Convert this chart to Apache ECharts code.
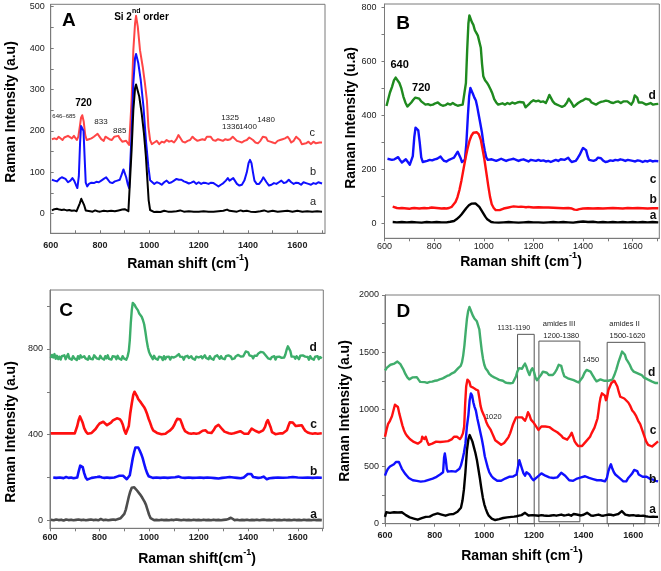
<!DOCTYPE html>
<html><head><meta charset="utf-8">
<script src="https://cdn.jsdelivr.net/npm/echarts@6/dist/echarts.min.js"></script>
<style>html,body{margin:0;padding:0;background:#fff}#c{width:661px;height:571px}</style>
</head><body><div id="c"></div>
<script>
// ---------- tick values ----------
const xLabelVals = [600,800,1000,1200,1400,1600];
const xTickVals = [600,700,800,900,1000,1100,1200,1300,1400,1500,1600,1700];
const A_yLabels = [0,100,200,300,400,500];
const A_yTicks = [0,50,100,150,200,250,300,350,400,450,500];
const B_yLabels = [0,200,400,600,800];
const B_yTicks = [0,100,200,300,400,500,600,700,800];
const C_yLabels = [0,400,800];
const C_yTicks = [0,200,400,600,800,1000];
const D_yLabels = [0,500,1000,1500,2000];
const D_yTicks = [0,250,500,750,1000,1250,1500,1750,2000];

// ---------- Panel A ----------
const A_a = [[605,8],[615,11],[625,12],[635,10],[645,9],[655,10],[665,8],[675,9],[685,7],[695,8],[705,6],[712,10],[718,25],[724,36],[730,34],[736,20],[742,8],[750,5],[760,6],[770,5],[780,8],[790,6],[800,5],[815,7],[830,6],[845,7],[860,6],[875,8],[890,10],[900,11],[908,9],[915,6],[921,9],[928,154],[935,250],[942,303],[946,312],[959,283],[969,242],[978,194],[986,138],[992,81],[997,33],[1003,9],[1010,5],[1020,4],[1030,5],[1045,4],[1060,7],[1075,5],[1090,5],[1110,6],[1125,8],[1140,5],[1160,6],[1180,5],[1200,5],[1220,6],[1240,5],[1260,5],[1280,6],[1300,7],[1315,10],[1325,7],[1340,6],[1355,5],[1370,8],[1380,6],[1395,7],[1410,5],[1430,4],[1450,6],[1465,8],[1480,5],[1500,7],[1520,5],[1540,6],[1560,7],[1580,5],[1600,7],[1620,5],[1640,6],[1660,5],[1680,6],[1700,5]];
const A_b = [[605,82],[615,80],[625,78],[635,84],[645,88],[652,92],[660,84],[670,76],[680,80],[688,86],[695,80],[702,70],[708,62],[714,90],[719,170],[723,212],[728,215],[733,200],[738,130],[742,75],[748,66],[755,72],[765,75],[775,74],[785,77],[795,76],[805,80],[815,84],[825,88],[832,86],[840,76],[850,74],[860,78],[870,80],[880,82],[888,95],[895,107],[900,105],[906,88],[912,72],[918,62],[922,66],[928,194],[935,315],[942,376],[946,386],[955,364],[965,323],[976,259],[986,178],[996,113],[1003,81],[1010,78],[1020,72],[1030,76],[1040,74],[1050,70],[1060,76],[1070,80],[1080,74],[1090,76],[1100,80],[1110,84],[1120,82],[1130,82],[1140,78],[1150,76],[1160,73],[1170,75],[1180,78],[1190,72],[1200,76],[1210,72],[1220,75],[1230,74],[1240,72],[1250,75],[1260,74],[1270,70],[1280,66],[1290,70],[1300,74],[1310,80],[1318,86],[1325,80],[1332,78],[1340,86],[1347,84],[1355,72],[1365,68],[1375,70],[1385,80],[1395,100],[1402,122],[1408,130],[1414,122],[1420,100],[1426,80],[1435,72],[1445,72],[1455,80],[1462,88],[1468,86],[1475,76],[1485,68],[1495,70],[1505,74],[1515,72],[1525,76],[1535,80],[1545,74],[1555,76],[1565,82],[1575,76],[1585,72],[1595,75],[1605,74],[1615,70],[1625,76],[1635,74],[1645,72],[1655,70],[1665,74],[1675,72],[1685,76],[1700,73]];
const A_c = [[605,180],[615,182],[625,180],[632,186],[640,185],[648,178],[655,184],[662,182],[670,188],[678,184],[686,182],[694,188],[700,186],[706,178],[712,186],[718,210],[723,232],[728,238],[734,222],[740,190],[746,178],[755,180],[765,182],[775,186],[783,190],[790,193],[797,190],[805,180],[815,176],[822,186],[830,188],[838,180],[848,178],[858,186],[866,190],[874,188],[882,180],[890,174],[898,172],[906,176],[912,172],[918,166],[922,170],[928,274],[935,395],[942,460],[946,478],[953,452],[962,395],[973,355],[982,315],[990,274],[996,210],[1003,178],[1010,168],[1020,172],[1030,176],[1040,168],[1050,174],[1060,172],[1070,178],[1080,174],[1090,176],[1100,172],[1110,180],[1118,190],[1125,186],[1135,174],[1145,172],[1155,176],[1165,178],[1175,186],[1185,180],[1195,176],[1205,178],[1215,180],[1225,178],[1233,186],[1240,190],[1248,186],[1258,178],[1268,176],[1278,180],[1288,178],[1298,176],[1308,180],[1318,178],[1328,180],[1338,186],[1345,182],[1355,176],[1365,174],[1375,172],[1385,176],[1395,178],[1405,184],[1412,186],[1420,178],[1430,172],[1440,170],[1450,176],[1460,186],[1466,190],[1473,184],[1480,176],[1490,174],[1500,172],[1510,170],[1520,176],[1530,178],[1540,180],[1550,182],[1560,186],[1568,180],[1575,172],[1585,176],[1595,186],[1603,190],[1610,178],[1618,168],[1625,165],[1635,170],[1645,174],[1655,168],[1665,174],[1675,170],[1690,172],[1700,172]];

// ---------- Panel B ----------
const B_a = [[633,6],[650,5],[670,6],[690,5],[710,6],[730,5],[750,4],[770,6],[790,5],[810,6],[830,5],[850,5],[865,7],[880,10],[890,16],[900,24],[910,34],[920,46],[930,58],[940,68],[950,74],[958,76],[966,75],[974,70],[982,62],[990,50],[998,38],[1006,26],[1014,16],[1022,10],[1030,6],[1040,5],[1060,4],[1080,5],[1100,6],[1120,5],[1140,4],[1160,5],[1180,6],[1200,5],[1220,5],[1240,4],[1260,5],[1280,6],[1300,5],[1320,6],[1340,5],[1360,4],[1380,6],[1400,8],[1420,6],[1440,7],[1460,5],[1480,6],[1500,5],[1520,6],[1540,5],[1560,6],[1580,5],[1600,6],[1620,5],[1640,6],[1660,5],[1680,6],[1703,5]];
const B_b = [[633,63],[640,60],[650,58],[660,57],[670,58],[680,57],[690,56],[700,55],[710,57],[720,58],[730,57],[740,56],[750,57],[760,58],[770,57],[780,58],[790,60],[800,59],[810,58],[820,57],[830,56],[840,57],[850,56],[860,58],[870,62],[878,68],[886,80],[894,98],[902,125],[910,160],[918,200],[926,240],[934,275],[942,305],[950,325],[958,336],[965,340],[972,338],[980,330],[988,310],[995,275],[1002,240],[1010,190],[1018,140],[1025,100],[1032,72],[1040,58],[1048,50],[1056,48],[1064,50],[1072,54],[1080,56],[1090,58],[1100,60],[1110,62],[1120,64],[1130,63],[1140,62],[1150,63],[1160,62],[1170,61],[1180,62],[1190,61],[1200,60],[1220,61],[1240,60],[1260,60],[1280,59],[1300,58],[1320,57],[1340,58],[1355,56],[1365,52],[1375,51],[1385,54],[1400,56],[1420,57],[1440,56],[1460,57],[1480,56],[1500,57],[1520,58],[1540,57],[1560,56],[1580,58],[1600,57],[1620,58],[1640,57],[1660,56],[1680,57],[1703,57]];
const B_c = [[612,240],[620,238],[630,236],[640,238],[648,244],[655,246],[662,236],[670,226],[678,232],[686,238],[694,232],[702,218],[708,212],[714,250],[720,320],[725,355],[730,358],[736,345],[742,300],[748,245],[754,228],[762,226],[772,232],[782,236],[792,234],[802,238],[812,240],[820,246],[826,248],[832,240],[840,232],[850,230],[860,236],[870,240],[880,244],[888,256],[895,266],[900,262],[906,244],[912,228],[918,222],[924,236],[930,300],[936,400],[941,470],[946,502],[951,498],[956,480],[962,466],[968,455],[974,430],[980,400],[986,370],[992,340],[998,300],[1004,270],[1010,245],[1016,236],[1024,232],[1032,238],[1040,234],[1050,232],[1060,236],[1070,240],[1080,236],[1090,232],[1100,236],[1110,238],[1120,240],[1130,236],[1140,232],[1150,236],[1160,238],[1170,234],[1180,230],[1190,236],[1200,234],[1210,232],[1220,236],[1230,232],[1240,234],[1250,230],[1260,232],[1270,228],[1280,232],[1290,236],[1300,232],[1310,238],[1318,242],[1326,236],[1334,240],[1340,244],[1346,236],[1354,228],[1362,226],[1370,232],[1378,242],[1386,254],[1394,270],[1400,280],[1406,284],[1412,272],[1418,250],[1424,236],[1432,230],[1442,232],[1452,236],[1460,244],[1466,248],[1472,242],[1480,234],[1490,228],[1500,230],[1510,234],[1520,232],[1530,236],[1540,234],[1550,238],[1560,236],[1570,232],[1580,236],[1590,234],[1600,232],[1610,230],[1620,234],[1630,232],[1640,228],[1650,232],[1660,230],[1670,234],[1680,230],[1690,232],[1703,231]];
const B_d = [[608,435],[615,460],[622,485],[630,505],[638,530],[645,540],[652,538],[660,520],[668,500],[676,470],[684,448],[692,433],[700,435],[708,448],[716,458],[724,466],[732,470],[740,462],[748,452],[756,448],[765,440],[775,442],[785,438],[795,440],[805,445],[815,448],[825,440],[835,436],[845,438],[855,444],[865,440],[875,446],[885,440],[895,436],[905,438],[915,440],[922,446],[928,520],[933,640],[938,740],[942,770],[947,765],[952,745],[958,735],[964,715],[970,705],[976,695],[982,690],[988,650],[993,590],[998,545],[1005,530],[1012,522],[1020,510],[1028,495],[1035,480],[1042,460],[1050,448],[1058,440],[1066,442],[1075,445],[1085,440],[1095,446],[1105,442],[1115,448],[1125,444],[1135,448],[1145,450],[1152,455],[1160,448],[1168,430],[1174,425],[1182,442],[1190,450],[1200,456],[1210,452],[1220,455],[1230,450],[1240,452],[1250,446],[1258,462],[1264,476],[1270,466],[1278,452],[1286,444],[1295,440],[1305,436],[1315,432],[1325,436],[1335,448],[1342,462],[1348,464],[1354,446],[1362,432],[1370,438],[1380,446],[1390,452],[1400,456],[1410,462],[1418,466],[1426,458],[1434,448],[1442,442],[1452,440],[1462,446],[1472,450],[1482,452],[1492,455],[1502,453],[1512,448],[1522,446],[1532,450],[1542,452],[1552,446],[1562,452],[1570,458],[1578,452],[1586,446],[1594,440],[1602,452],[1608,474],[1613,480],[1618,466],[1624,448],[1630,442],[1638,448],[1646,452],[1654,440],[1662,442],[1672,446],[1682,440],[1692,442],[1703,443]];

// ---------- Panel C ----------
const C_a = [[603,3],[615,0],[625,4],[635,1],[645,3],[655,-1],[665,4],[675,1],[685,3],[695,0],[705,2],[715,4],[725,1],[735,3],[745,0],[755,2],[765,4],[775,1],[785,3],[795,0],[805,6],[815,1],[825,3],[835,0],[845,2],[855,4],[865,2],[875,6],[885,10],[893,18],[900,30],[906,50],[912,80],[918,110],[924,135],[930,152],[935,158],[940,154],[946,146],[952,138],[958,130],[964,120],[970,110],[976,98],[982,86],[988,70],[994,48],[1000,26],[1006,10],[1012,3],[1020,1],[1030,2],[1040,0],[1050,3],[1060,1],[1070,2],[1080,0],[1090,3],[1100,1],[1110,4],[1120,2],[1130,0],[1140,3],[1150,1],[1160,2],[1170,0],[1180,3],[1190,1],[1200,2],[1210,0],[1220,3],[1230,1],[1240,2],[1250,0],[1260,3],[1270,1],[1280,2],[1290,0],[1300,2],[1310,3],[1320,6],[1330,12],[1338,6],[1345,1],[1355,3],[1365,0],[1375,2],[1385,1],[1395,3],[1405,0],[1415,2],[1425,1],[1435,3],[1445,0],[1455,2],[1465,3],[1475,1],[1485,2],[1495,0],[1505,3],[1515,1],[1525,2],[1535,0],[1545,3],[1555,1],[1565,2],[1575,0],[1585,3],[1595,1],[1605,2],[1615,0],[1625,3],[1635,1],[1645,2],[1655,0],[1665,3],[1675,1],[1685,2],[1697,1]];
const C_b = [[613,200],[625,198],[640,200],[655,197],[665,202],[675,198],[685,200],[695,196],[703,190],[710,200],[716,230],[722,255],[727,260],[732,248],[738,220],[744,200],[750,190],[758,192],[768,198],[778,200],[790,202],[800,204],[810,200],[820,198],[830,200],[840,198],[850,199],[860,200],[870,204],[880,208],[888,210],[895,208],[902,200],[910,192],[916,192],[922,210],[928,250],[934,290],[940,320],[945,340],[950,346],[956,340],[962,326],[968,310],[974,290],[980,264],[986,240],[992,220],[998,206],[1005,200],[1015,198],[1030,200],[1045,198],[1060,200],[1075,198],[1090,200],[1105,201],[1118,204],[1130,200],[1145,198],[1160,200],[1175,198],[1190,199],[1205,200],[1220,198],[1235,200],[1250,199],[1265,197],[1280,195],[1295,198],[1310,200],[1325,202],[1340,200],[1355,198],[1370,196],[1382,200],[1390,208],[1398,216],[1405,222],[1412,216],[1420,202],[1428,196],[1440,198],[1452,200],[1462,204],[1468,202],[1475,192],[1485,196],[1500,198],[1520,200],[1540,199],[1560,200],[1580,202],[1600,200],[1620,199],[1640,200],[1660,198],[1680,200],[1697,199]];
const C_c = [[603,406],[620,406],[640,406],[660,406],[680,406],[700,406],[705,412],[710,440],[716,470],[721,485],[726,480],[732,455],[738,430],[745,414],[752,404],[760,402],[768,408],[776,416],[784,426],[792,440],[800,452],[808,458],[815,460],[822,452],[830,444],[838,448],[846,456],[854,466],[862,472],[870,476],[876,478],[882,472],[888,462],[894,446],[900,420],[906,404],[912,410],[918,440],[924,500],[930,545],[936,585],[941,600],[946,596],[951,580],[956,566],[962,560],[968,548],[974,540],[980,528],[986,514],[992,496],[998,474],[1004,456],[1010,436],[1016,420],[1024,412],[1032,408],[1040,406],[1050,402],[1058,400],[1066,404],[1075,412],[1085,420],[1095,432],[1102,446],[1108,462],[1114,474],[1120,478],[1126,470],[1132,452],[1138,432],[1145,416],[1152,410],[1160,406],[1170,404],[1180,406],[1190,404],[1200,406],[1208,410],[1216,418],[1222,424],[1228,420],[1236,410],[1244,406],[1252,408],[1260,420],[1268,436],[1274,444],[1280,446],[1288,438],[1296,424],[1304,414],[1312,408],[1322,406],[1332,404],[1342,406],[1352,410],[1360,414],[1368,416],[1376,410],[1384,404],[1392,400],[1400,404],[1408,418],[1414,428],[1420,426],[1428,418],[1436,414],[1444,410],[1452,412],[1460,420],[1468,436],[1474,458],[1479,468],[1484,462],[1490,436],[1496,412],[1502,404],[1510,402],[1520,404],[1530,406],[1540,406],[1548,410],[1556,420],[1562,440],[1568,458],[1574,462],[1580,456],[1586,448],[1592,440],[1598,436],[1604,442],[1610,448],[1616,444],[1622,432],[1630,418],[1640,410],[1650,406],[1660,404],[1670,406],[1680,404],[1697,406]];
const C_d = [[603,758],[608,772],[613,760],[618,776],[623,754],[628,768],[633,752],[638,764],[643,750],[648,766],[653,758],[658,770],[663,752],[668,764],[673,776],[678,756],[683,762],[688,750],[693,766],[698,756],[703,762],[708,748],[713,766],[718,754],[723,770],[728,760],[733,752],[738,766],[743,756],[748,762],[753,750],[758,766],[763,754],[768,762],[773,752],[778,770],[783,776],[788,756],[793,764],[798,752],[803,768],[808,758],[813,764],[818,750],[823,766],[828,756],[833,770],[838,754],[843,762],[848,750],[853,766],[858,758],[863,764],[868,752],[873,768],[878,756],[883,762],[888,750],[893,766],[898,756],[903,762],[908,750],[913,764],[918,790],[922,840],[926,920],[930,980],[934,1015],[938,1020],[942,1005],[946,995],[950,990],[955,980],[960,965],[965,960],[970,950],[975,935],[980,915],[985,880],[990,840],[995,808],[1000,785],[1005,772],[1010,766],[1015,752],[1020,768],[1025,756],[1030,762],[1035,750],[1040,764],[1045,756],[1050,760],[1055,748],[1060,766],[1065,752],[1070,762],[1075,756],[1080,764],[1085,750],[1090,762],[1095,756],[1100,760],[1105,752],[1110,766],[1115,772],[1120,776],[1125,764],[1130,756],[1135,762],[1140,750],[1145,764],[1150,756],[1155,768],[1160,758],[1165,752],[1170,766],[1175,756],[1180,762],[1185,750],[1190,764],[1195,756],[1200,760],[1205,752],[1210,766],[1215,756],[1220,762],[1225,770],[1230,758],[1235,764],[1240,752],[1245,766],[1250,756],[1255,762],[1260,750],[1265,764],[1270,756],[1275,770],[1280,762],[1285,754],[1290,766],[1295,756],[1300,762],[1305,752],[1310,766],[1315,760],[1320,770],[1325,776],[1330,764],[1335,752],[1340,760],[1345,756],[1350,766],[1355,760],[1360,772],[1365,776],[1370,764],[1375,756],[1380,766],[1385,772],[1390,788],[1395,792],[1400,784],[1405,770],[1410,762],[1415,766],[1420,756],[1425,768],[1430,772],[1435,768],[1440,778],[1445,784],[1450,786],[1455,788],[1460,784],[1465,776],[1470,770],[1475,762],[1480,756],[1485,764],[1490,752],[1495,762],[1500,756],[1505,766],[1510,750],[1515,762],[1520,756],[1525,764],[1530,770],[1535,758],[1540,766],[1545,760],[1550,774],[1555,796],[1560,812],[1565,810],[1570,790],[1575,764],[1580,756],[1585,764],[1590,754],[1595,766],[1600,760],[1605,752],[1610,768],[1615,762],[1620,770],[1625,778],[1630,764],[1635,756],[1640,762],[1645,750],[1650,766],[1655,756],[1660,762],[1665,750],[1670,764],[1675,756],[1680,766],[1685,752],[1690,762],[1697,756]];

// ---------- Panel D ----------
const D_a = [[600,60],[605,100],[612,105],[620,95],[628,110],[636,100],[644,108],[652,98],[660,105],[668,100],[676,90],[684,75],[692,65],[700,55],[708,50],[716,45],[724,38],[732,35],[740,40],[748,48],[756,55],[764,60],[772,55],[780,62],[788,70],[796,80],[804,85],[812,90],[820,88],[828,80],[836,75],[844,70],[852,78],[860,82],[868,80],[876,85],[884,95],[892,105],[900,120],[906,140],[912,200],[918,300],[924,450],[930,640],[936,740],[941,775],[946,760],[952,720],[958,670],[964,620],[970,560],[976,480],[982,400],[988,310],[994,230],[1000,170],[1006,130],[1012,95],[1018,70],[1024,55],[1030,45],[1036,38],[1044,32],[1052,35],[1060,40],[1068,45],[1076,50],[1084,52],[1092,55],[1100,58],[1110,60],[1120,62],[1130,65],[1140,70],[1150,75],[1158,85],[1164,95],[1170,85],[1178,72],[1186,70],[1194,75],[1202,78],[1210,72],[1220,70],[1230,75],[1240,72],[1250,70],[1260,68],[1270,72],[1280,75],[1290,70],[1300,75],[1310,80],[1320,72],[1330,75],[1340,80],[1350,70],[1360,85],[1366,95],[1372,80],[1380,70],[1390,72],[1400,78],[1408,92],[1414,95],[1420,80],[1430,72],[1440,70],[1450,75],[1460,80],[1470,72],[1480,70],[1490,75],[1500,80],[1510,78],[1520,72],[1530,80],[1540,85],[1548,100],[1554,110],[1560,95],[1568,80],[1576,75],[1584,72],[1592,70],[1600,75],[1610,70],[1620,72],[1630,68],[1640,70],[1650,65],[1660,62],[1670,60],[1680,62],[1690,60],[1700,60]];
const D_b = [[600,420],[606,455],[612,480],[620,500],[628,510],[636,520],[644,540],[650,545],[656,540],[662,510],[668,480],[674,460],[680,440],[688,420],[696,400],[704,390],[712,380],[720,385],[728,375],[736,370],[744,368],[752,366],[760,372],[768,378],[776,384],[784,390],[792,395],[800,400],[808,410],[816,420],[822,430],[828,440],[834,450],[838,580],[841,615],[845,560],[849,480],[853,455],[860,455],[868,460],[876,452],[884,455],[892,460],[900,480],[906,510],[912,560],[918,620],[924,700],[930,850],[936,950],[941,1080],[946,1140],[951,1120],[956,1060],[961,1020],[966,990],[972,920],[978,860],[984,800],[990,740],[996,670],[1002,590],[1008,540],[1014,490],[1020,450],[1028,420],[1036,400],[1044,385],[1052,375],[1060,368],[1068,375],[1076,385],[1084,395],[1092,400],[1100,410],[1108,405],[1116,412],[1124,415],[1130,430],[1136,500],[1141,555],[1146,540],[1152,480],[1158,440],[1164,420],[1170,450],[1176,460],[1182,430],[1190,400],[1198,380],[1206,390],[1214,410],[1222,420],[1230,440],[1238,430],[1246,420],[1254,410],[1262,405],[1270,410],[1278,400],[1286,395],[1294,405],[1302,425],[1310,445],[1318,440],[1326,420],[1334,400],[1342,380],[1350,370],[1358,375],[1366,385],[1374,395],[1382,400],[1390,405],[1398,410],[1406,415],[1414,410],[1422,400],[1430,395],[1438,390],[1446,385],[1454,380],[1462,385],[1470,380],[1478,375],[1486,370],[1494,400],[1500,460],[1506,500],[1510,520],[1516,480],[1522,450],[1528,430],[1536,420],[1544,400],[1552,385],[1560,370],[1566,355],[1572,370],[1580,400],[1588,420],[1596,440],[1604,470],[1610,485],[1616,460],[1622,430],[1630,415],[1638,410],[1646,420],[1654,410],[1662,400],[1670,390],[1680,385],[1690,375],[1700,370]];
const D_c = [[600,760],[606,820],[612,870],[620,900],[628,940],[634,990],[640,1040],[646,1055],[652,1020],[658,960],[664,910],[670,860],[676,820],[682,790],[688,770],[694,755],[700,740],[708,725],[716,715],[724,705],[732,700],[740,710],[746,720],[750,760],[754,775],[758,740],[764,760],[770,720],[776,690],[782,680],[790,700],[798,712],[806,718],[814,720],[822,714],[830,720],[838,718],[846,715],[854,722],[862,728],[870,740],[878,760],[884,775],[890,760],[896,745],[902,740],[908,760],[914,790],[919,850],[923,1050],[927,1200],[932,1260],[936,1270],[940,1240],[945,1200],[950,1210],[955,1190],[960,1185],[965,1175],[970,1170],[975,1165],[980,1100],[985,1030],[990,990],[996,960],[1002,930],[1008,890],[1014,860],[1020,840],[1026,820],[1032,790],[1038,760],[1044,730],[1050,720],[1056,710],[1062,700],[1068,690],[1074,700],[1080,705],[1086,720],[1092,740],[1098,760],[1104,790],[1110,830],[1116,870],[1122,900],[1128,930],[1134,940],[1140,930],[1146,920],[1152,930],[1158,915],[1164,900],[1170,930],[1176,975],[1182,950],[1188,910],[1194,900],[1200,880],[1206,860],[1212,840],[1218,820],[1224,830],[1230,850],[1238,860],[1246,850],[1254,848],[1262,845],[1270,830],[1278,820],[1286,815],[1294,800],[1302,790],[1310,770],[1318,750],[1326,740],[1334,735],[1340,740],[1346,770],[1352,795],[1358,760],[1364,720],[1370,700],[1378,680],[1386,670],[1394,680],[1402,700],[1410,720],[1418,730],[1426,760],[1432,790],[1438,800],[1444,840],[1450,880],[1456,920],[1460,980],[1464,1050],[1468,1100],[1474,1140],[1480,1150],[1486,1120],[1490,1080],[1494,1100],[1500,1170],[1506,1200],[1512,1230],[1518,1240],[1524,1250],[1530,1240],[1536,1200],[1542,1150],[1548,1110],[1556,1100],[1564,1095],[1572,1080],[1580,1060],[1588,1030],[1596,990],[1604,970],[1612,940],[1620,900],[1628,870],[1636,820],[1644,770],[1652,720],[1660,690],[1668,680],[1676,675],[1684,690],[1692,705],[1700,720]];
const D_d = [[600,1340],[608,1365],[615,1375],[622,1390],[630,1395],[638,1400],[645,1410],[650,1418],[656,1405],[662,1395],[668,1372],[675,1345],[682,1310],[690,1280],[698,1262],[705,1268],[712,1280],[720,1290],[728,1282],[735,1260],[742,1240],[750,1232],[760,1238],[770,1232],[780,1240],[790,1242],[800,1250],[810,1252],[820,1262],[830,1268],[840,1280],[850,1292],[860,1300],[870,1315],[880,1325],[888,1340],[895,1360],[900,1375],[905,1380],[910,1410],[915,1470],[920,1560],[925,1680],[930,1790],[935,1860],[940,1895],[945,1870],[950,1840],[955,1815],[960,1795],[965,1785],[970,1770],[975,1760],[980,1700],[985,1600],[990,1510],[995,1440],[1000,1390],[1005,1360],[1012,1340],[1020,1310],[1030,1292],[1040,1280],[1050,1270],[1060,1258],[1068,1268],[1075,1250],[1085,1235],[1095,1230],[1105,1228],[1115,1232],[1122,1245],[1128,1290],[1133,1330],[1140,1360],[1146,1370],[1152,1355],[1158,1380],[1164,1400],[1170,1370],[1176,1330],[1182,1300],[1188,1340],[1194,1360],[1200,1330],[1206,1280],[1212,1255],[1220,1270],[1228,1300],[1236,1330],[1244,1340],[1252,1320],[1260,1300],[1268,1290],[1276,1300],[1284,1320],[1292,1350],[1300,1390],[1305,1405],[1310,1380],[1316,1330],[1322,1290],[1330,1275],[1340,1268],[1350,1262],[1360,1255],[1370,1245],[1380,1235],[1388,1240],[1396,1280],[1404,1320],[1412,1345],[1420,1350],[1428,1330],[1436,1300],[1444,1270],[1452,1245],[1460,1250],[1468,1262],[1476,1258],[1484,1250],[1492,1265],[1500,1250],[1508,1240],[1516,1260],[1524,1300],[1532,1350],[1540,1410],[1548,1460],[1555,1505],[1560,1510],[1566,1480],[1572,1440],[1578,1420],[1586,1390],[1594,1350],[1602,1330],[1610,1320],[1618,1315],[1626,1320],[1634,1300],[1642,1280],[1650,1270],[1658,1262],[1666,1255],[1674,1245],[1682,1235],[1690,1230],[1700,1230]];
const D_boxes = [[1134,0,1201,1656],[1220,17,1385,1597],[1495,0,1647,1586]];

// ---------- annotations (data coordinates, text) ----------
const A_notes = [[674,465,'A','L'],[968,480,'{b|Si 2}{s|nd}{b| order}','R'],[733,266,'720','B'],[654,235,'646–685','XS'],[804,222,'833','S'],[880,200,'885','S'],[1327,231,'1325','S'],[1331,209,'1336','S'],[1400,209,'1400','S'],[1473,228,'1480','S'],[1660,195,'c','N'],[1664,101,'b','N'],[1664,28,'a','N']];
const B_notes = [[675,738,'B','L'],[661,587,'640','B2'],[748,502,'720','B2'],[1678,472,'d','NB'],[1682,161,'c','NB'],[1682,87,'b','NB'],[1682,30,'a','NB']];
const C_notes = [[665,979,'C','L'],[1662,805,'d','NB'],[1664,448,'c','NB'],[1664,227,'b','NB'],[1664,28,'a','NB']];
const D_notes = [[674,1854,'D','L'],[1119,1714,'1131-1190','T'],[1301,1744,'amides III','T2'],[1310,1641,'1200-1380','T2'],[1429,1432,'1450','T2'],[1565,1744,'amides II','T2'],[1577,1641,'1500-1620','T2'],[1036,936,'1020','T2'],[1674,1324,'d','NB'],[1680,811,'c','NB'],[1678,388,'b','NB'],[1678,120,'a','NB']];

// ---------- styles ----------
const FONT = '"Liberation Sans", Arial, sans-serif';
const noteStyles = {
  L:{fontSize:19,fontWeight:'bold',color:'#000'},
  R:{fontSize:10,fontWeight:'bold',color:'#000'},
  B:{fontSize:10,fontWeight:'bold',color:'#000'},
  B2:{fontSize:11,fontWeight:'bold',color:'#000'},
  XS:{fontSize:6,color:'#222'},
  S:{fontSize:8,color:'#222'},
  T:{fontSize:7,color:'#222'},
  T2:{fontSize:7.5,color:'#222'},
  N:{fontSize:11,color:'#222'},
  NB:{fontSize:12,fontWeight:'bold',color:'#111'}
};
function notes(list){
  return {silent:true, animation:false, data:list.map(n=>({
    coord:[n[0],n[1]], symbol:'circle', symbolSize:0,
    label:Object.assign({show:true, position:'inside', formatter:n[2], fontFamily:FONT,
      rich:{b:{fontSize:10,fontWeight:'bold',fontFamily:FONT,color:'#000',lineHeight:14,verticalAlign:'bottom'},
            s:{fontSize:7,fontWeight:'bold',fontFamily:FONT,color:'#000',lineHeight:7,verticalAlign:'top'}}},
      noteStyles[n[3]])
  }))};
}

const grids = [
  {left:50.7, top:4.3, width:274.3, height:229},
  {left:384.5, top:4, width:274.8, height:234.3},
  {left:50, top:290, width:273.3, height:238.3},
  {left:385, top:295, width:274.3, height:228.7}
];
const yRanges = [[-47.3,505.8],[-54,812],[-37.3,1075],[0,2000]];
const xMax = [1712,1707,1703,1705];
const yLabelSets = [A_yLabels,B_yLabels,C_yLabels,D_yLabels];
const yTickSets = [A_yTicks,B_yTicks,C_yTicks,D_yTicks];
const tickInside = [true,false,false,false];
const xBold = ['bold','normal','bold','bold'];
const xMargins = [8,4,5,7];
const yMargins = [6,8,7,6];
const AX = '#7a7a7a';
const plain = v => String(v);

const xAxes = grids.map((g,i)=>({
  gridIndex:i, type:'value', min:600, max:xMax[i],
  axisLine:{show:true, onZero:false, lineStyle:{color:AX,width:1}},
  axisTick:{show:true, inside:tickInside[i], length:3, customValues:xTickVals, lineStyle:{color:AX}},
  axisLabel:{show:true, customValues:xLabelVals, formatter:plain, fontSize:9, fontWeight:xBold[i], color:'#222', fontFamily:FONT, margin:xMargins[i]},
  splitLine:{show:false}
}));
const yAxes = grids.map((g,i)=>({
  gridIndex:i, type:'value', min:yRanges[i][0], max:yRanges[i][1],
  axisLine:{show:true, onZero:false, lineStyle:{color:AX,width:1}},
  axisTick:{show:true, inside:tickInside[i], length:3, customValues:yTickSets[i], lineStyle:{color:AX}},
  axisLabel:{show:true, customValues:yLabelSets[i], formatter:plain, fontSize:9, color:'#222', fontFamily:FONT, margin:yMargins[i]},
  splitLine:{show:false}
}));

function ln(g, data, color, width, extra){
  return Object.assign({type:'line', xAxisIndex:g, yAxisIndex:g, data:data, showSymbol:false, symbol:'none',
    lineStyle:{color:color, width:width, join:'round'}, itemStyle:{color:color}, silent:true, animation:false}, extra||{});
}

const series = [
  ln(0, A_c, '#ff4646', 2, {markPoint:notes(A_notes)}),
  ln(0, A_b, '#1010ff', 2),
  ln(0, A_a, '#000000', 2),
  ln(1, B_d, '#1f8a1f', 2.4, {markPoint:notes(B_notes)}),
  ln(1, B_c, '#1010ff', 2.4),
  ln(1, B_b, '#ff1010', 2.4),
  ln(1, B_a, '#000000', 2.4),
  ln(2, C_d, '#3cae6a', 2.4, {markPoint:notes(C_notes)}),
  ln(2, C_c, '#ff1010', 2.6),
  ln(2, C_b, '#1010ff', 2.6),
  ln(2, C_a, '#4d4d4d', 2.6),
  ln(3, D_d, '#40ad6c', 2.4, {markPoint:notes(D_notes)}),
  ln(3, D_c, '#ff1010', 2.4),
  ln(3, D_b, '#1010ff', 2.4),
  ln(3, D_a, '#000000', 2.4, {markArea:{silent:true, itemStyle:{color:'rgba(0,0,0,0)', borderColor:'#555', borderWidth:1},
      data:D_boxes.map(b=>[{xAxis:b[0], yAxis:b[1]},{xAxis:b[2], yAxis:b[3]}])}})
];

function title(x, y, text, rot){
  return {type:'text', x:x, y:y, rotation:rot?Math.PI/2:0, silent:true,
    style:{text:text, align:'center', verticalAlign:'middle', fill:'#000', font:'bold 14px '+FONT,
      rich:{m:{fontSize:14, fontWeight:'bold', fontFamily:FONT, fill:'#000', lineHeight:18, verticalAlign:'bottom'},
            s:{fontSize:9, fontWeight:'bold', fontFamily:FONT, fill:'#000', lineHeight:8, verticalAlign:'top'}}}};
}
const graphics = [
  title(188, 262, '{m|Raman shift (cm}{s|-1}{m|)}'),
  title(9, 112, '{m|Raman Intensity (a.u)}', true),
  title(521, 260, '{m|Raman shift (cm}{s|-1}{m|)}'),
  title(349, 118, '{m|Raman Intensity (u.a)}', true),
  title(197, 557, '{m|Raman shift(cm}{s|-1}{m|)}'),
  title(9, 432, '{m|Raman Intensity (a.u)}', true),
  title(522, 554, '{m|Raman shift (cm}{s|-1}{m|)}'),
  title(343, 411, '{m|Raman Intensity (a.u)}', true)
];

const chart = echarts.init(document.getElementById('c'), null, {renderer:'canvas'});
chart.setOption({
  animation:false,
  backgroundColor:'#fff',
  grid: grids.map(g=>Object.assign({show:true, borderColor:AX, borderWidth:1, backgroundColor:'transparent', containLabel:false}, g)),
  xAxis:xAxes, yAxis:yAxes, series:series, graphic:graphics
});
</script></body></html>
